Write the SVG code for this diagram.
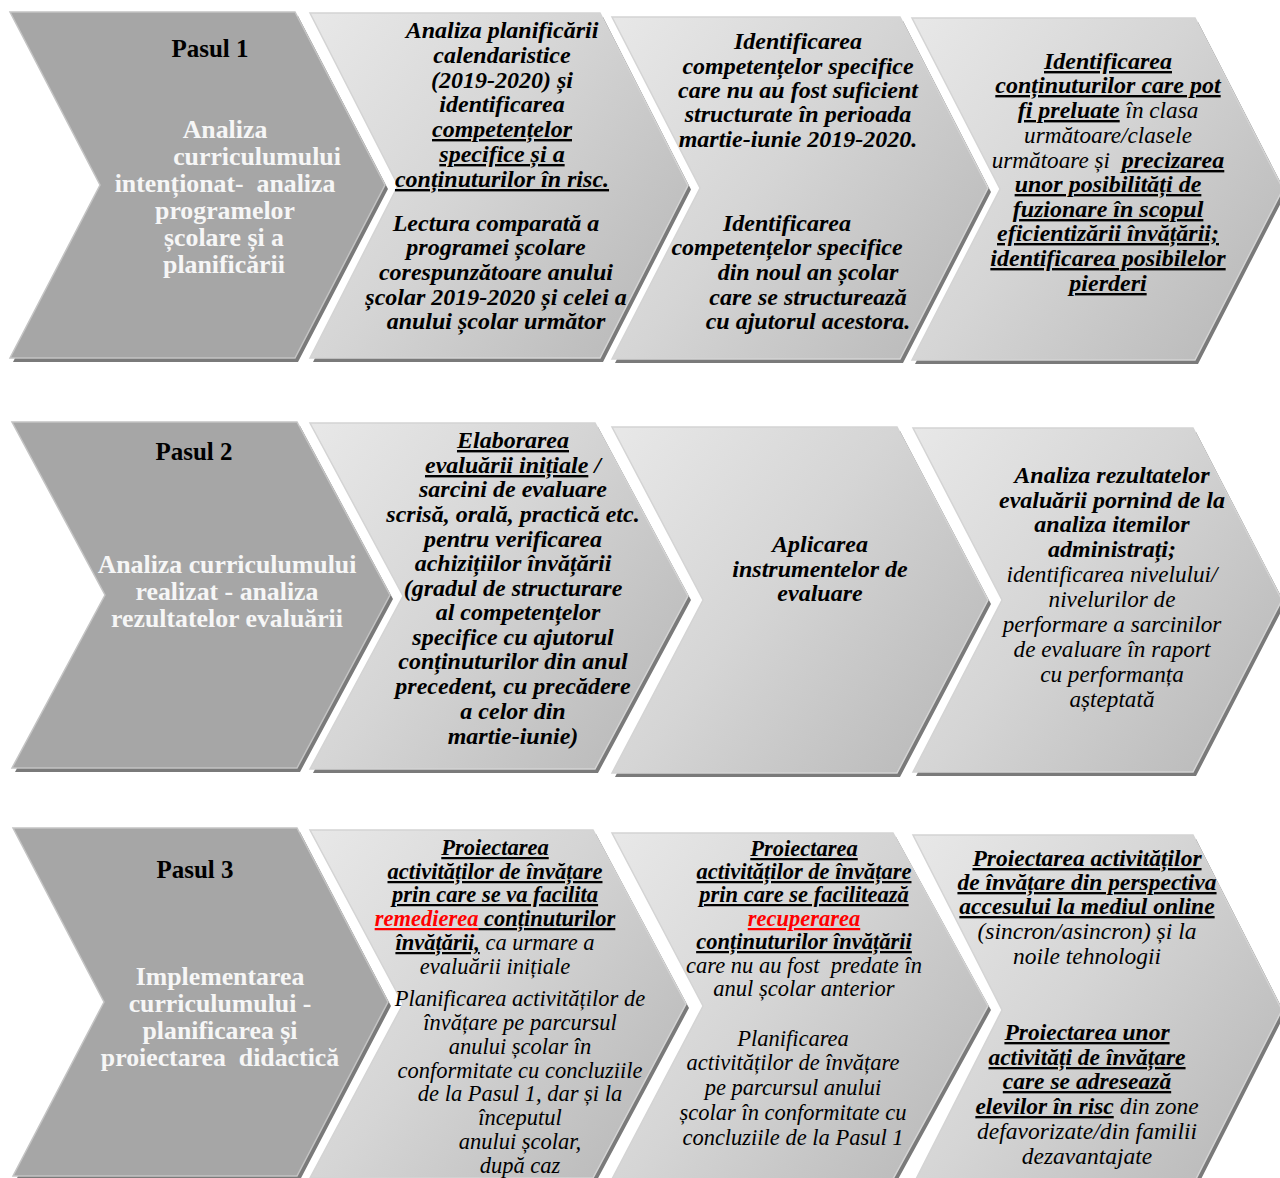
<svg xmlns="http://www.w3.org/2000/svg" width="1280" height="1178" viewBox="0 0 1280 1178">
<style>
text{font-family:"Liberation Serif","Times New Roman",serif;font-size:24px;text-anchor:middle;fill:#000}
.bi{font-style:italic;font-weight:bold}
.i{font-style:italic;font-weight:normal;font-size:23.2px}
.u{text-decoration:underline}
.red{fill:#ff0000}
.step{font-weight:bold;font-size:25px}
.wt{font-weight:bold;fill:#f6f6f6;font-size:25.8px}
.dark{fill:#a6a6a6;stroke:#c4c4c4;stroke-width:1.5}
.light{fill:url(#lg);stroke:#d4d4d4;stroke-width:1.5}
.sh{fill:#7a7a7a}
#r3c2 text,#r3c2 tspan,#r3c3 text,#r3c3 tspan{font-size:22.5px}
#r3c4 text,#r3c4 tspan{font-size:23.5px}
</style>
<defs>
<linearGradient id="lg" x1="0" y1="0" x2="1" y2="0.7">
<stop offset="0" stop-color="#e8e8e8"/>
<stop offset="0.5" stop-color="#d5d5d5"/>
<stop offset="1" stop-color="#bcbcbc"/>
</linearGradient>
</defs>
<rect width="1280" height="1178" fill="#fff"/>

<g id="row1">
<g id="r1c1">
<polygon class="sh" transform="translate(3,4)" points="10,12 295,12 385,185 295,358 10,358 100,185"/>
<polygon class="dark" points="10,12 295,12 385,185 295,358 10,358 100,185"/>
<text class="step" x="210" y="57">Pasul 1</text>
<text class="wt" x="225" y="138">Analiza</text>
<text class="wt" x="257" y="165">curriculumului</text>
<text class="wt" x="225" y="192" xml:space="preserve">intenționat-  analiza</text>
<text class="wt" x="225" y="219">programelor</text>
<text class="wt" x="224" y="246">școlare și a</text>
<text class="wt" x="224" y="273">planificării</text>
</g>
<g id="r1c2">
<polygon class="sh" transform="translate(3,4)" points="310,13 600,13 688,185.5 600,358 310,358 398,185.5"/>
<polygon class="light" points="310,13 600,13 688,185.5 600,358 310,358 398,185.5"/>
<text class="bi" x="502" y="38">Analiza planificării</text>
<text class="bi" x="502" y="63">calendaristice</text>
<text class="bi" x="502" y="88">(2019-2020) și</text>
<text class="bi" x="502" y="112">identificarea</text>
<text class="bi u" x="502" y="137">competențelor</text>
<text class="bi u" x="502" y="162">specifice și a</text>
<text class="bi u" x="502" y="187">conținuturilor în risc.</text>
<text class="bi" x="496" y="231">Lectura comparată a</text>
<text class="bi" x="496" y="255">programei școlare</text>
<text class="bi" x="496" y="280">corespunzătoare anului</text>
<text class="bi" x="496" y="305">școlar 2019-2020 și celei a</text>
<text class="bi" x="496" y="329">anului școlar următor</text>
</g>
<g id="r1c3">
<polygon class="sh" transform="translate(3,4)" points="612,17 900,17 988,188 900,359 612,359 700,188"/>
<polygon class="light" points="612,17 900,17 988,188 900,359 612,359 700,188"/>
<text class="bi" x="798" y="49">Identificarea</text>
<text class="bi" x="798" y="74">competențelor specifice</text>
<text class="bi" x="798" y="98">care nu au fost suficient</text>
<text class="bi" x="798" y="122">structurate în perioada</text>
<text class="bi" x="798" y="147">martie-iunie 2019-2020.</text>
<text class="bi" x="787" y="231">Identificarea</text>
<text class="bi" x="787" y="255">competențelor specifice</text>
<text class="bi" x="808" y="280">din noul an școlar</text>
<text class="bi" x="808" y="305">care se structurează</text>
<text class="bi" x="808" y="329">cu ajutorul acestora.</text>
</g>
<g id="r1c4">
<polygon class="sh" transform="translate(3,4)" points="912,18 1195,18 1283,189 1195,360 912,360 1000,189"/>
<polygon class="light" points="912,18 1195,18 1283,189 1195,360 912,360 1000,189"/>
<text class="bi u" x="1108" y="69">Identificarea</text>
<text class="bi u" x="1108" y="93">conținuturilor care pot</text>
<text x="1108" y="118"><tspan class="bi u">fi preluate</tspan><tspan class="i"> în clasa</tspan></text>
<text class="i" x="1108" y="143">următoare/clasele</text>
<text x="1108" y="168" xml:space="preserve"><tspan class="i">următoare și  </tspan><tspan class="bi u">precizarea</tspan></text>
<text class="bi u" x="1108" y="192">unor posibilități de</text>
<text class="bi u" x="1108" y="217">fuzionare în scopul</text>
<text class="bi u" x="1108" y="241">eficientizării învățării;</text>
<text class="bi u" x="1108" y="266">identificarea posibilelor</text>
<text class="bi u" x="1108" y="291">pierderi</text>
</g>
</g>

<g id="row2">
<g id="r2c1">
<polygon class="sh" transform="translate(3,4)" points="12,422 297,422 390,595 297,768 12,768 105,595"/>
<polygon class="dark" points="12,422 297,422 390,595 297,768 12,768 105,595"/>
<text class="step" x="194" y="460">Pasul 2</text>
<text class="wt" x="227" y="573">Analiza curriculumului</text>
<text class="wt" x="227" y="600">realizat - analiza</text>
<text class="wt" x="227" y="627">rezultatelor evaluării</text>
</g>
<g id="r2c2">
<polygon class="sh" transform="translate(3,4)" points="310,423 595,423 688,596 595,769 310,769 403,596"/>
<polygon class="light" points="310,423 595,423 688,596 595,769 310,769 403,596"/>
<text class="bi u" x="513" y="448">Elaborarea</text>
<text x="513" y="473"><tspan class="bi u">evaluării inițiale</tspan><tspan class="bi"> /</tspan></text>
<text class="bi" x="513" y="497">sarcini de evaluare</text>
<text class="bi" x="513" y="522">scrisă, orală, practică etc.</text>
<text class="bi" x="513" y="547">pentru verificarea</text>
<text class="bi" x="513" y="571">achizițiilor învățării</text>
<text class="bi" x="513" y="596">(gradul de structurare</text>
<text class="bi" x="518" y="620">al competențelor</text>
<text class="bi" x="513" y="645">specifice cu ajutorul</text>
<text class="bi" x="513" y="669">conținuturilor din anul</text>
<text class="bi" x="513" y="694">precedent, cu precădere</text>
<text class="bi" x="513" y="719">a celor din</text>
<text class="bi" x="513" y="744">martie-iunie)</text>
</g>
<g id="r2c3">
<polygon class="sh" transform="translate(3,4)" points="612,427 897,427 988,600 897,773 612,773 703,600"/>
<polygon class="light" points="612,427 897,427 988,600 897,773 612,773 703,600"/>
<text class="bi" x="820" y="552">Aplicarea</text>
<text class="bi" x="820" y="577">instrumentelor de</text>
<text class="bi" x="820" y="601">evaluare</text>
</g>
<g id="r2c4">
<polygon class="sh" transform="translate(3,4)" points="913,428 1193,428 1282,600 1193,772 913,772 1002,600"/>
<polygon class="light" points="913,428 1193,428 1282,600 1193,772 913,772 1002,600"/>
<text class="bi" x="1112" y="483">Analiza rezultatelor</text>
<text class="bi" x="1112" y="508">evaluării pornind de la</text>
<text class="bi" x="1112" y="532">analiza itemilor</text>
<text class="bi" x="1112" y="557">administrați;</text>
<text class="i" x="1112" y="582">identificarea nivelului/</text>
<text class="i" x="1112" y="607">nivelurilor de</text>
<text class="i" x="1112" y="632">performare a sarcinilor</text>
<text class="i" x="1112" y="657">de evaluare în raport</text>
<text class="i" x="1112" y="682">cu performanța</text>
<text class="i" x="1112" y="707">așteptată</text>
</g>
</g>

<g id="row3">
<g id="r3c1">
<polygon class="sh" transform="translate(3,4)" points="13,828 297,828 388,1002 297,1176 13,1176 104,1002"/>
<polygon class="dark" points="13,828 297,828 388,1002 297,1176 13,1176 104,1002"/>
<text class="step" x="195" y="878">Pasul 3</text>
<text class="wt" x="220" y="985">Implementarea</text>
<text class="wt" x="220" y="1012">curriculumului -</text>
<text class="wt" x="220" y="1039">planificarea și</text>
<text class="wt" x="220" y="1066" xml:space="preserve">proiectarea  didactică</text>
</g>
<g id="r3c2">
<polygon class="sh" transform="translate(3,4)" points="310,830 593,830 686,1004 593,1178 310,1178 403,1004"/>
<polygon class="light" points="310,830 593,830 686,1004 593,1178 310,1178 403,1004"/>
<text class="bi u" x="495" y="855">Proiectarea</text>
<text class="bi u" x="495" y="879">activităților de învățare</text>
<text class="bi u" x="495" y="902">prin care se va facilita</text>
<text x="495" y="926"><tspan class="bi u red">remedierea</tspan><tspan class="bi u"> conținuturilor</tspan></text>
<text x="495" y="950"><tspan class="bi u">învățării,</tspan><tspan class="i"> ca urmare a</tspan></text>
<text class="i" x="495" y="974">evaluării inițiale</text>
<text class="i" x="520" y="1006">Planificarea activităților de</text>
<text class="i" x="520" y="1030">învățare pe parcursul</text>
<text class="i" x="520" y="1054">anului școlar în</text>
<text class="i" x="520" y="1078">conformitate cu concluziile</text>
<text class="i" x="520" y="1101">de la Pasul 1, dar și la</text>
<text class="i" x="520" y="1125">începutul</text>
<text class="i" x="520" y="1149">anului școlar,</text>
<text class="i" x="520" y="1173">după caz</text>
</g>
<g id="r3c3">
<polygon class="sh" transform="translate(3,4)" points="612,833 893,833 988,1006 893,1179 612,1179 703,1006"/>
<polygon class="light" points="612,833 893,833 988,1006 893,1179 612,1179 703,1006"/>
<text class="bi u" x="804" y="856">Proiectarea</text>
<text class="bi u" x="804" y="879">activităților de învățare</text>
<text class="bi u" x="804" y="902">prin care se facilitează</text>
<text class="bi u red" x="804" y="926">recuperarea</text>
<text class="bi u" x="804" y="949">conținuturilor învățării</text>
<text class="i" x="804" y="973" xml:space="preserve">care nu au fost  predate în</text>
<text class="i" x="804" y="996">anul școlar anterior</text>
<text class="i" x="793" y="1046">Planificarea</text>
<text class="i" x="793" y="1070">activităților de învățare</text>
<text class="i" x="793" y="1095">pe parcursul anului</text>
<text class="i" x="793" y="1120">școlar în conformitate cu</text>
<text class="i" x="793" y="1145">concluziile de la Pasul 1</text>
</g>
<g id="r3c4">
<polygon class="sh" transform="translate(3,4)" points="913,835 1193,835 1282,1010 1193,1185 913,1185 1002,1010"/>
<polygon class="light" points="913,835 1193,835 1282,1010 1193,1185 913,1185 1002,1010"/>
<text class="bi u" x="1087" y="866">Proiectarea activităților</text>
<text class="bi u" x="1087" y="890">de învățare din perspectiva</text>
<text class="bi u" x="1087" y="914">accesului la mediul online</text>
<text class="i" x="1087" y="939">(sincron/asincron) și la</text>
<text class="i" x="1087" y="964">noile tehnologii</text>
<text class="bi u" x="1087" y="1040">Proiectarea unor</text>
<text class="bi u" x="1087" y="1065">activități de învățare</text>
<text class="bi u" x="1087" y="1089">care se adresează</text>
<text x="1087" y="1114"><tspan class="bi u">elevilor în risc</tspan><tspan class="i"> din zone</tspan></text>
<text class="i" x="1087" y="1139">defavorizate/din familii</text>
<text class="i" x="1087" y="1164">dezavantajate</text>
</g>
</g>
</svg>
